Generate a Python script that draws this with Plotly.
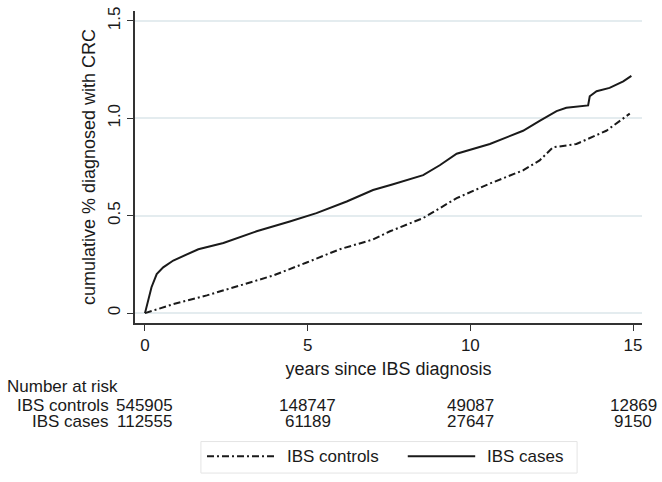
import plotly.graph_objects as go

# ---- data ----
years_cases = [0, 0.1, 0.2, 0.36, 0.56, 0.87, 1.28, 1.64, 2.41, 3.43, 4.45, 5.27, 6.2, 7.01,
               7.6, 8.55, 9.06, 9.58, 10.6, 11.62, 12.13, 12.65, 12.95, 13.62, 13.67, 13.88,
               14.28, 14.7, 14.95]
cum_cases = [0, 0.066, 0.133, 0.20, 0.235, 0.27, 0.30, 0.328, 0.36, 0.42, 0.47, 0.513, 0.573,
             0.632, 0.66, 0.708, 0.759, 0.818, 0.868, 0.936, 0.987, 1.037, 1.054, 1.066, 1.113,
             1.139, 1.156, 1.19, 1.218]

years_controls = [0, 0.87, 1.9, 2.92, 3.94, 4.97, 5.99, 7.01, 7.53, 8.55, 9.58, 10.6, 11.62,
                  12.13, 12.54, 13.26, 14.18, 14.9]
cum_controls = [0, 0.046, 0.091, 0.142, 0.193, 0.26, 0.328, 0.378, 0.42, 0.488, 0.59, 0.665,
                0.733, 0.784, 0.851, 0.868, 0.936, 1.024]

risk_times = [0, 5, 10, 15]
risk_controls = [545905, 148747, 49087, 12869]
risk_cases = [112555, 61189, 27647, 9150]

x_ticks = [0, 5, 10, 15]
y_ticks = [0, 0.5, 1.0, 1.5]
y_tick_labels = ["0", "0.5", "1.0", "1.5"]

series_names = ["IBS controls", "IBS cases"]

FONT = "Liberation Sans, Arial, sans-serif"
INK = "#1a1a1a"
DASHDOT = "7px,3px,2px,3px"

fig = go.Figure()
fig.add_trace(go.Scatter(x=years_controls, y=cum_controls, mode="lines", name=series_names[0],
                         line=dict(color=INK, width=2, dash=DASHDOT), showlegend=False))
fig.add_trace(go.Scatter(x=years_cases, y=cum_cases, mode="lines", name=series_names[1],
                         line=dict(color=INK, width=2), showlegend=False))

ann = []
# number at risk table
ann.append(dict(text="Number at risk", xref="paper", yref="paper", x=-0.254, y=-0.2025,
                xanchor="left", yanchor="middle", showarrow=False, borderpad=0))
for lbl, vals, yy in [(series_names[0], risk_controls, -0.266), (series_names[1], risk_cases, -0.316)]:
    ann.append(dict(text=lbl, xref="paper", yref="paper", x=-0.049, y=yy,
                    xanchor="right", yanchor="middle", showarrow=False, borderpad=0))
    for t, v in zip(risk_times, vals):
        ann.append(dict(text=str(v), xref="x", yref="paper", x=t, y=yy,
                        xanchor="center", yanchor="middle", showarrow=False, borderpad=0))

# manual legend (long line samples as in the reference)
LEG_Y = -0.427
shapes = [dict(type="rect", xref="paper", yref="paper", x0=0.130, x1=0.872, y0=-0.481, y1=-0.380,
               line=dict(color="#e4e4e4", width=1), fillcolor="white", layer="below"),
          dict(type="line", xref="paper", yref="paper", x0=0.142, x1=0.276, y0=LEG_Y, y1=LEG_Y,
               line=dict(color=INK, width=2, dash=DASHDOT)),
          dict(type="line", xref="paper", yref="paper", x0=0.538, x1=0.671, y0=LEG_Y, y1=LEG_Y,
               line=dict(color=INK, width=2))]
ann.append(dict(text=series_names[0], xref="paper", yref="paper", x=0.296, y=LEG_Y,
                xanchor="left", yanchor="middle", showarrow=False))
ann.append(dict(text=series_names[1], xref="paper", yref="paper", x=0.690, y=LEG_Y,
                xanchor="left", yanchor="middle", showarrow=False))

fig.update_layout(
    width=662, height=482,
    margin=dict(l=135, r=20, t=7, b=159),
    paper_bgcolor="white", plot_bgcolor="white",
    font=dict(family=FONT, size=17, color=INK),
    annotations=ann, shapes=shapes,
    showlegend=False,
)
fig.update_xaxes(range=[-0.307, 15.276], tickvals=x_ticks, ticks="outside", ticklen=6,
                 tickcolor="#333", showline=True, linecolor="#333", linewidth=1.5,
                 showgrid=False, zeroline=False,
                 title=dict(text="years since IBS diagnosis", standoff=8,
                            font=dict(size=18)))
fig.update_yaxes(range=[-0.0507, 1.5507], tickvals=y_ticks, ticktext=y_tick_labels,
                 tickangle=-90, ticks="outside", ticklen=6, tickcolor="#333",
                 showline=True, linecolor="#333", linewidth=1.5,
                 showgrid=True, gridcolor="#e4ecef", gridwidth=1.5, zeroline=False,
                 title=dict(text="cumulative % diagnosed with CRC", standoff=5,
                            font=dict(size=18)))

# remove the default 8px page margin so the 662x482 figure fills the window exactly
fig.write_html("out.html", config={"displayModeBar": False},
               post_script="document.body.style.margin='0';")
